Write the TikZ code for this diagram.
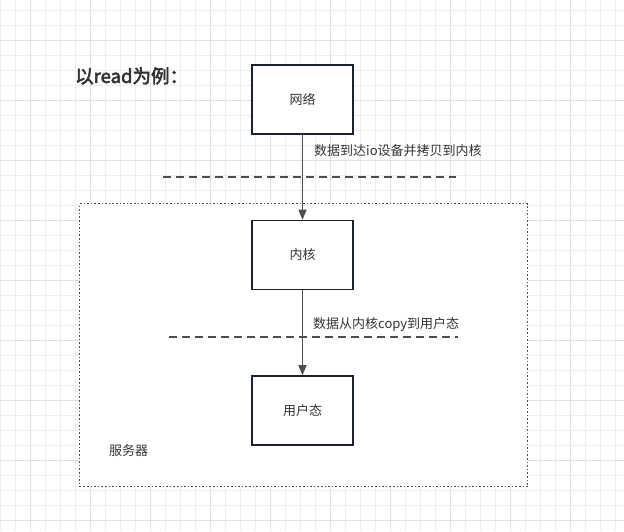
\documentclass[tikz,border=0pt]{standalone}
\usepackage{fontspec}
\newfontfamily\cjk{Noto Sans CJK SC}
\newfontfamily\cjkb[FakeBold=3]{Noto Sans CJK SC}
\usetikzlibrary{arrows.meta}
\definecolor{gridminor}{HTML}{EDEDED}
\definecolor{gridmajor}{HTML}{E0E0E0}
\definecolor{boxline}{HTML}{1B222B}
\definecolor{txt}{HTML}{333333}
\definecolor{arr}{HTML}{4D4D4D}
\tikzset{
  box/.style={draw=boxline, line width=1.6pt, fill=white, minimum width=101pt, minimum height=69pt, inner sep=0pt, font=\cjk\fontsize{13}{15}\selectfont, text=txt},
  lbl/.style={font=\cjk\fontsize{13}{15}\selectfont, text=txt, inner sep=0pt, anchor=west},
  flow/.style={draw=arr, line width=1.3pt, -{Triangle[length=10pt,width=8pt]}},
  sep/.style={draw=arr, line width=1.2pt, dash pattern=on 8pt off 5pt},
}
\begin{document}
\begin{tikzpicture}[x=1pt,y=-1pt]
\useasboundingbox (0,0) rectangle (624,531);
\fill[white] (0,0) rectangle (624,531);
% grid
\foreach \x in {0,15,...,615} \draw[gridminor, line width=0.8pt] (\x,0) -- (\x,531);
\foreach \y in {10,25,...,530} \draw[gridminor, line width=0.8pt] (0,\y) -- (624,\y);
\foreach \x in {30,90,...,615} \draw[gridmajor, line width=0.9pt] (\x,0) -- (\x,531);
\foreach \y in {40,100,...,530} \draw[gridmajor, line width=0.9pt] (0,\y) -- (624,\y);
% server container
\node[draw=arr, line width=1.4pt, dash pattern=on 1.6pt off 2pt, fill=white, minimum width=448pt, minimum height=283pt, anchor=north west, inner sep=0pt] (server) at (79,203) {};
\node[lbl] (serverlbl) at (109,451) {服务器};
% title
\node[font=\cjkb\fontsize{18.5}{20}\selectfont, text=txt, anchor=west, inner sep=0pt] (title) at (75,76) {以read为例：};
% boxes
\node[box] (net) at (302.5,99.5) {网络};
\node[box] (kernel) at (302.5,255) {内核};
\node[box] (user) at (302.5,410.5) {用户态};
% dashed separators
\coordinate (s1a) at (163,177);
\coordinate (s1b) at (456,177);
\coordinate (s2a) at (169,337);
\coordinate (s2b) at (458,337);
\draw[sep] (s1a) -- (s1b);
\draw[sep] (s2a) -- (s2b);
% arrows
\draw[flow] (net) -- (kernel);
\draw[flow] (kernel) -- (user);
% labels
\node[lbl] (l1) at (314,151) {数据到达io设备并拷贝到内核};
\node[lbl] (l2) at (313,325) {数据从内核copy到用户态};
\end{tikzpicture}
\end{document}
